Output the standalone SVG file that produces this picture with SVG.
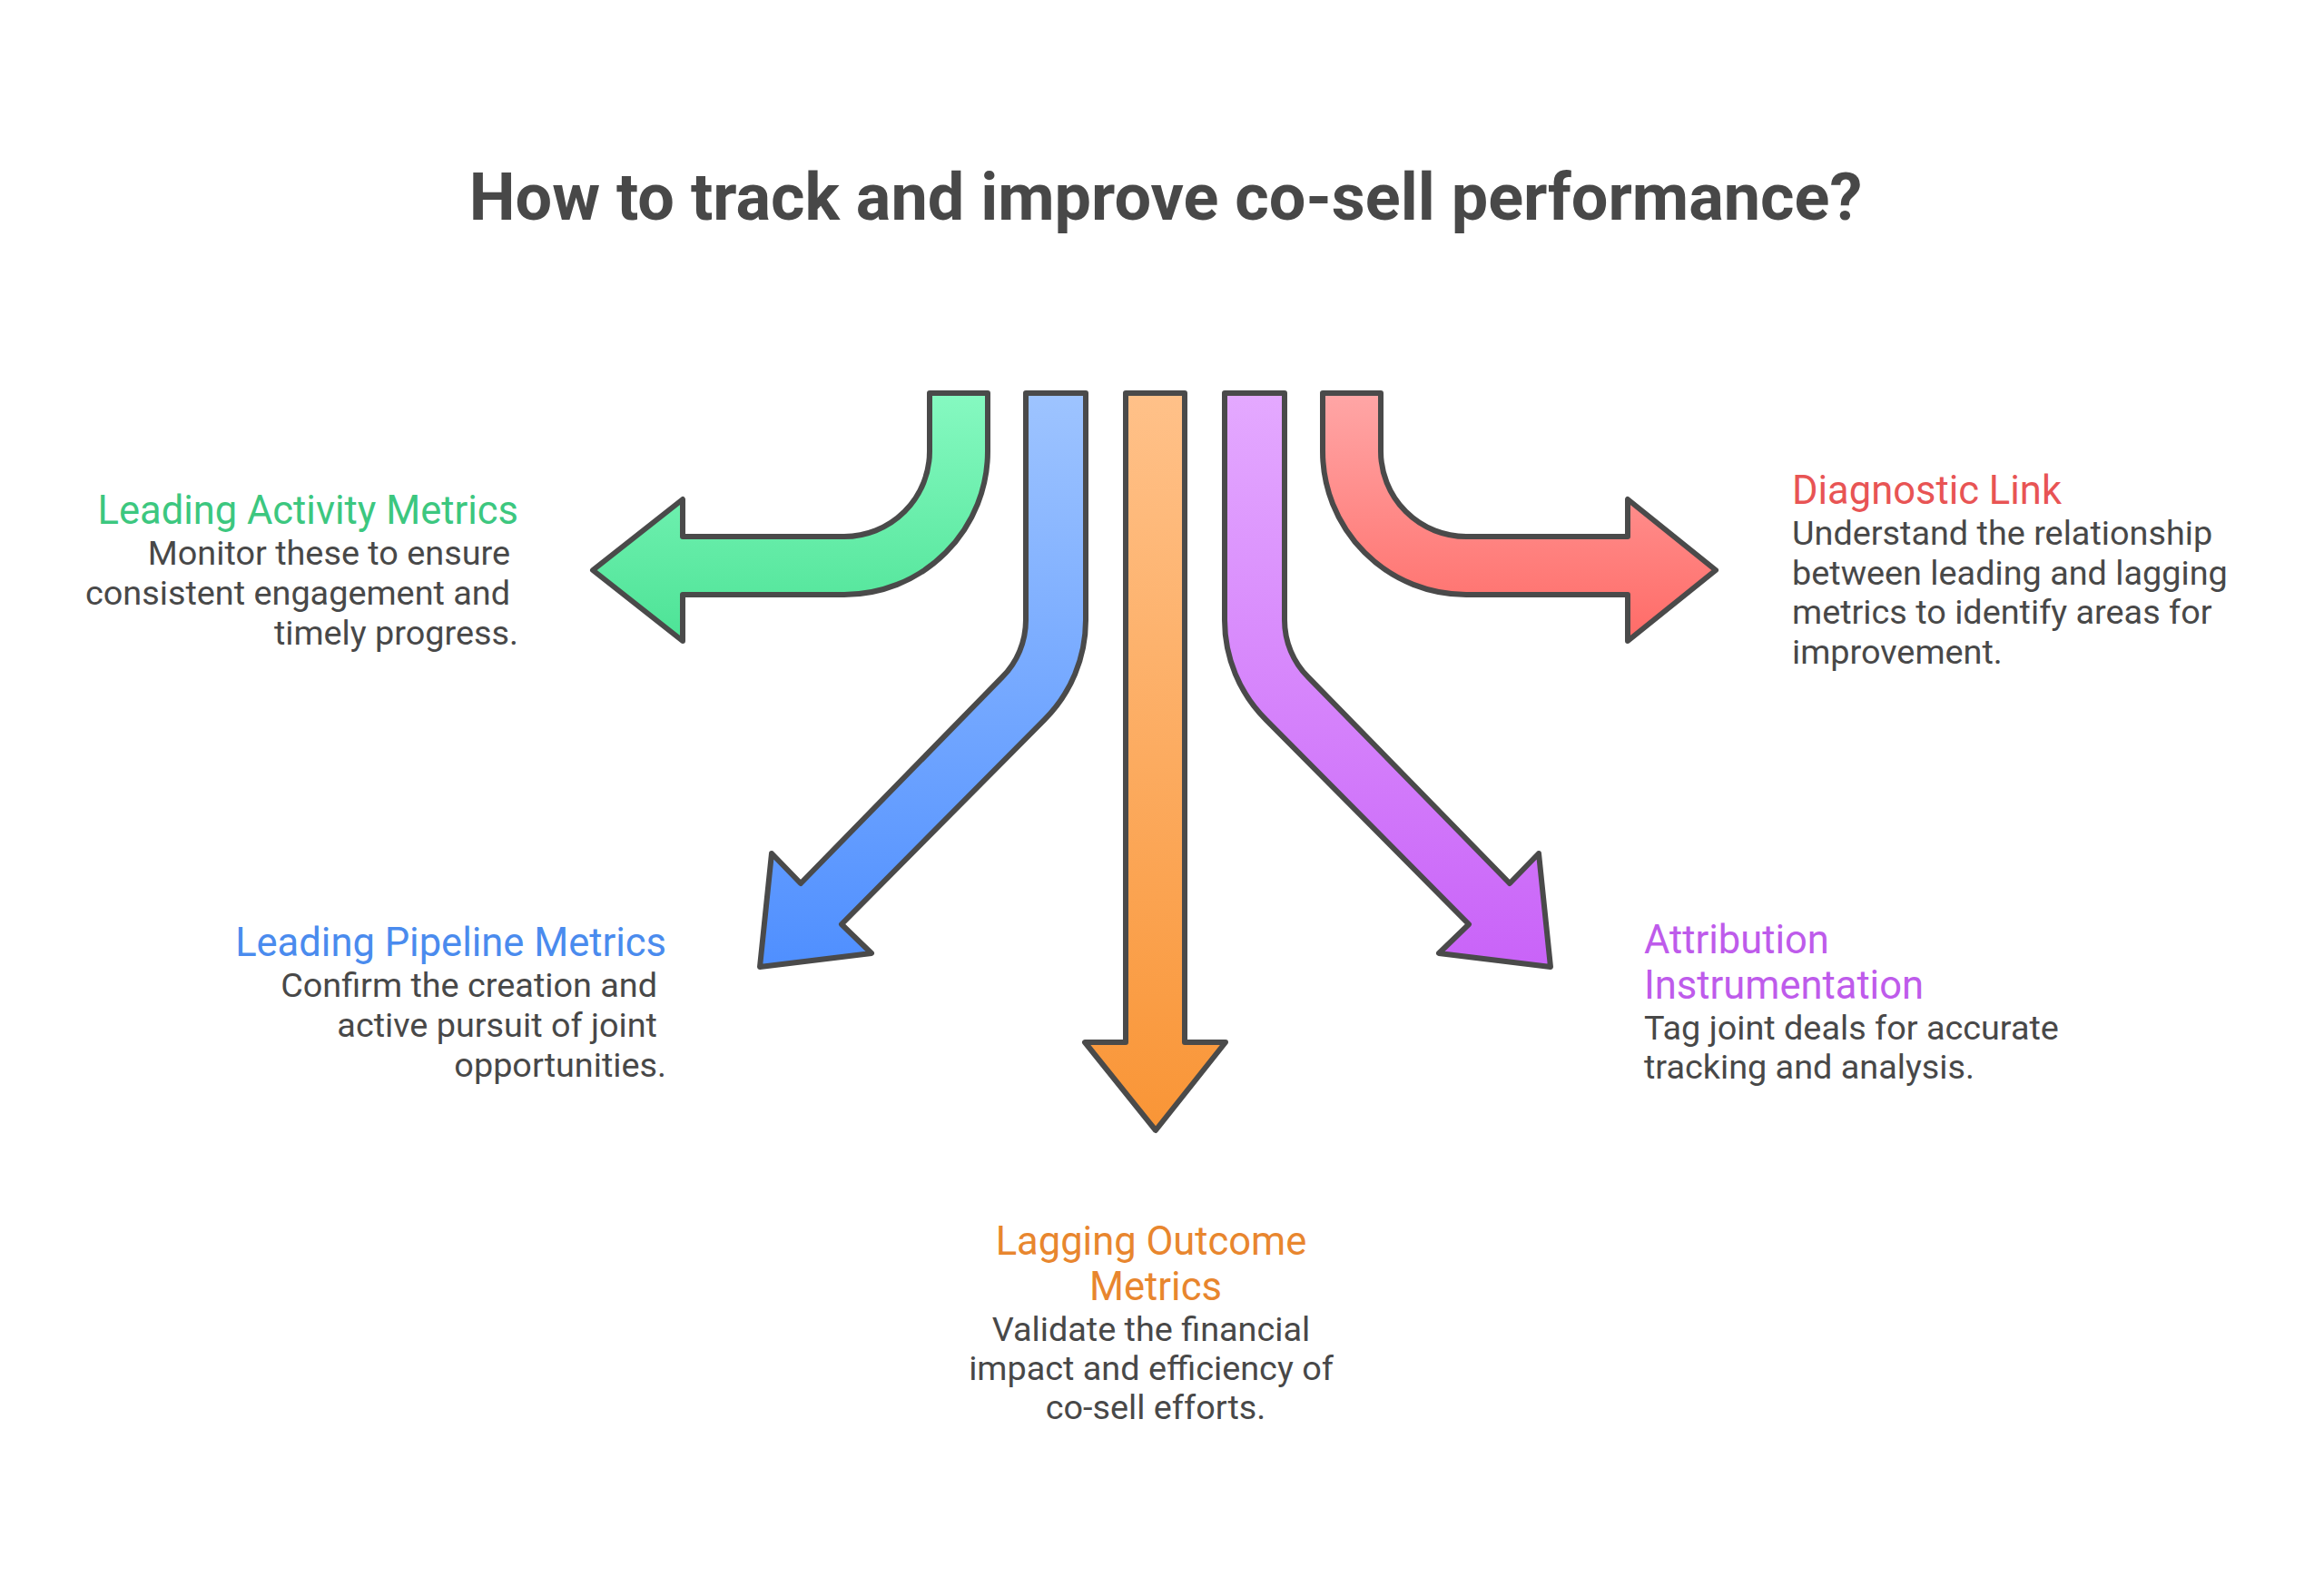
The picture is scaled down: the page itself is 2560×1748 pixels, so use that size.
<svg xmlns="http://www.w3.org/2000/svg" width="2560" height="1748" viewBox="0 0 2560 1748">
<defs>
<linearGradient id="gGreen" x1="0" y1="0" x2="0" y2="1"><stop offset="0" stop-color="#86F9C1"/><stop offset="1" stop-color="#4DE396"/></linearGradient>
<linearGradient id="gBlue" x1="0" y1="0" x2="0" y2="1"><stop offset="0" stop-color="#9EC4FF"/><stop offset="1" stop-color="#4F8FFF"/></linearGradient>
<linearGradient id="gOrange" x1="0" y1="0" x2="0" y2="1"><stop offset="0" stop-color="#FFC189"/><stop offset="1" stop-color="#F99536"/></linearGradient>
<linearGradient id="gPurple" x1="0" y1="0" x2="0" y2="1"><stop offset="0" stop-color="#E4A9FF"/><stop offset="1" stop-color="#C963F8"/></linearGradient>
<linearGradient id="gRed" x1="0" y1="0" x2="0" y2="1"><stop offset="0" stop-color="#FFA6A6"/><stop offset="1" stop-color="#FF6B67"/></linearGradient>
<style>
.arrow{stroke:#4a4a4a;stroke-width:6;stroke-linejoin:round}
.title{font-family:Roboto,"Liberation Sans",sans-serif;font-weight:700;font-size:72px;fill:#484848}
.head{font-family:Roboto,"Liberation Sans",sans-serif;font-size:43.5px}
.body{font-family:Roboto,"Liberation Sans",sans-serif;font-size:37.8px;fill:#484848}
</style>
</defs>
<rect width="2560" height="1748" fill="#ffffff"/>
<text class="title" x="1284" y="242" text-anchor="middle">How to track and improve co-sell performance?</text>
<g id="connectors">
<path id="arrow-green" class="arrow" fill="url(#gGreen)" d="M1024,433 L1088,433 L1088,497 A158,158 0 0 1 930,655 L752,655 L752,706 L653,628 L752,550 L752,591 L930,591 A94,94 0 0 0 1024,497 Z"/>
<path id="arrow-blue" class="arrow" fill="url(#gBlue)" d="M1130,433 L1196,433 L1196,683 A155,155 0 0 1 1150.6,792.6 L927,1018 L960,1050 L837,1065 L850,940 L882,973 L1103.9,745.9 A89,89 0 0 0 1130,683 Z"/>
<path id="arrow-orange" class="arrow" fill="url(#gOrange)" d="M1240,433 L1305,433 L1305,1148 L1350,1148 L1273,1245 L1195,1148 L1240,1148 Z"/>
<path id="arrow-purple" class="arrow" fill="url(#gPurple)" d="M1415,433 L1349,433 L1349,683 A155,155 0 0 0 1394.4,792.6 L1618,1018 L1585,1050 L1708,1065 L1695,940 L1663,973 L1441.1,745.9 A89,89 0 0 1 1415,683 Z"/>
<path id="arrow-red" class="arrow" fill="url(#gRed)" d="M1521,433 L1457,433 L1457,497 A158,158 0 0 0 1615,655 L1793,655 L1793,706 L1890,628 L1793,550 L1793,591 L1615,591 A94,94 0 0 1 1521,497 Z"/>
</g>
<g id="node-leading-activity" text-anchor="end">
<text class="head" x="571" y="577" fill="#3CC77F">Leading Activity Metrics</text>
<text class="body" x="562" y="622">Monitor these to ensure</text>
<text class="body" x="562" y="666">consistent engagement and</text>
<text class="body" x="571" y="710">timely progress.</text>
</g>
<g id="node-leading-pipeline" text-anchor="end">
<text class="head" x="734" y="1053" fill="#4A8BEE">Leading Pipeline Metrics</text>
<text class="body" x="724" y="1098">Confirm the creation and</text>
<text class="body" x="724" y="1142">active pursuit of joint</text>
<text class="body" x="734" y="1186">opportunities.</text>
</g>
<g id="node-lagging-outcome" text-anchor="middle">
<text class="head" x="1268" y="1382" fill="#E8862E">Lagging Outcome</text>
<text class="head" x="1273" y="1432" fill="#E8862E">Metrics</text>
<text class="body" x="1268" y="1477">Validate the financial</text>
<text class="body" x="1268" y="1520">impact and efficiency of</text>
<text class="body" x="1273" y="1563">co-sell efforts.</text>
</g>
<g id="node-attribution">
<text class="head" x="1811" y="1050" fill="#BE5BEB">Attribution</text>
<text class="head" x="1811" y="1100" fill="#BE5BEB">Instrumentation</text>
<text class="body" x="1811" y="1145">Tag joint deals for accurate</text>
<text class="body" x="1811" y="1188">tracking and analysis.</text>
</g>
<g id="node-diagnostic">
<text class="head" x="1974" y="555" fill="#E85454">Diagnostic Link</text>
<text class="body" x="1974" y="600">Understand the relationship</text>
<text class="body" x="1974" y="644">between leading and lagging</text>
<text class="body" x="1974" y="687">metrics to identify areas for</text>
<text class="body" x="1974" y="731">improvement.</text>
</g>
</svg>
